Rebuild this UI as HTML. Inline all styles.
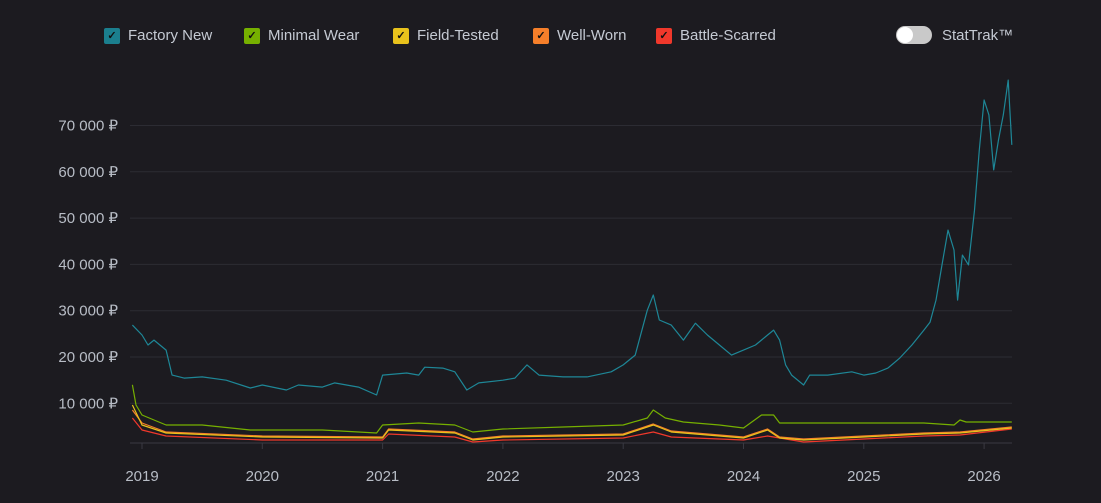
<!DOCTYPE html>
<html><head><meta charset="utf-8"><style>
body{margin:0;background:#1c1b20;font-family:"Liberation Sans",sans-serif;}
#wrap{position:relative;width:1101px;height:503px;overflow:hidden;background:#1c1b20;}
.leg{position:absolute;top:27px;display:flex;align-items:center;color:#c5cad3;font-size:15px;}
.cb{width:16px;height:16px;border-radius:2px;margin-right:8px;display:flex;align-items:center;justify-content:center;color:#111;font-size:11px;font-weight:bold;}
</style></head><body><div id="wrap">
<div class="leg" style="left:104px"><div class="cb" style="background:#1b7f8e">✓</div>Factory New</div>
<div class="leg" style="left:244px"><div class="cb" style="background:#76b000">✓</div>Minimal Wear</div>
<div class="leg" style="left:393px"><div class="cb" style="background:#e8c21c">✓</div>Field-Tested</div>
<div class="leg" style="left:533px"><div class="cb" style="background:#f57f2a">✓</div>Well-Worn</div>
<div class="leg" style="left:656px"><div class="cb" style="background:#f0382b">✓</div>Battle-Scarred</div>
<div style="position:absolute;left:896px;top:26px;width:36px;height:18px;border-radius:9px;background:#c9c9c9"><div style="position:absolute;left:1px;top:1px;width:16px;height:16px;border-radius:8px;background:#fff"></div></div>
<div class="leg" style="left:942px">StatTrak™</div>
<svg id="chart" width="1101" height="503" style="position:absolute;left:0;top:0"></svg>
</div>
<script>
const yTicks=[10000,20000,30000,40000,50000,60000,70000];
const yearTicks=[2019,2020,2021,2022,2023,2024,2025,2026];
const fnT=[2018.92,2019.0,2019.05,2019.1,2019.2,2019.25,2019.35,2019.5,2019.7,2019.9,2020.0,2020.2,2020.3,2020.5,2020.6,2020.8,2020.95,2021.0,2021.2,2021.3,2021.35,2021.5,2021.6,2021.7,2021.8,2022.0,2022.1,2022.2,2022.3,2022.5,2022.7,2022.9,2023.0,2023.1,2023.2,2023.25,2023.3,2023.4,2023.5,2023.6,2023.7,2023.8,2023.9,2024.0,2024.1,2024.2,2024.25,2024.3,2024.35,2024.4,2024.5,2024.55,2024.7,2024.9,2025.0,2025.1,2025.2,2025.3,2025.4,2025.5,2025.55,2025.6,2025.65,2025.7,2025.75,2025.78,2025.82,2025.87,2025.92,2025.96,2026.0,2026.04,2026.08,2026.12,2026.16,2026.2,2026.23];
const fnV=[26900,24750,22600,23650,21500,16100,15450,15700,15000,13300,13950,12870,13950,13500,14400,13500,11800,16100,16550,16100,17800,17600,16800,12870,14400,15000,15450,18300,16100,15700,15700,16800,18300,20400,30100,33400,28000,26900,23650,27300,24750,22600,20400,21500,22600,24750,25800,23650,18300,16100,13950,16100,16100,16800,16100,16550,17600,19800,22600,25800,27500,32300,39900,47400,43100,32300,42000,39900,51700,64700,75500,72300,60400,66900,72300,79800,65800];
const mwT=[2018.92,2018.95,2019.0,2019.1,2019.2,2019.5,2019.9,2020.5,2020.95,2021.0,2021.3,2021.6,2021.75,2022.0,2022.5,2023.0,2023.2,2023.25,2023.35,2023.5,2023.8,2024.0,2024.15,2024.25,2024.3,2025.0,2025.5,2025.75,2025.8,2025.85,2026.23];
const mwV=[14000,9630,7470,6390,5310,5310,4230,4230,3590,5310,5750,5310,3800,4450,4880,5310,6820,8550,6820,5960,5310,4660,7470,7470,5750,5750,5750,5310,6390,5960,5960];
const loT=[2018.92,2019.0,2019.2,2020.0,2021.0,2021.05,2021.6,2021.75,2022.0,2023.0,2023.25,2023.4,2023.8,2024.0,2024.2,2024.3,2024.5,2025.0,2025.5,2025.8,2026.23];
const ftV=[9630,5310,3590,2720,2500,4230,3590,2070,2720,3150,5310,3800,2940,2500,4230,2500,2070,2720,3370,3590,4660];
const wwV=[8550,5750,3800,2940,2720,4450,3800,2290,2940,3370,5530,4020,3150,2720,4450,2720,2290,2940,3590,3800,4880];
const bsT=[2018.92,2019.0,2019.2,2020.0,2021.0,2021.05,2021.6,2021.75,2022.0,2023.0,2023.25,2023.4,2024.0,2024.2,2024.5,2025.0,2025.5,2025.8,2026.23];
const bsV=[6820,4230,2940,2070,2070,3370,2720,1640,2070,2500,3800,2720,2070,2940,1640,2290,2940,3150,4450];
const X=t=>142+(t-2019)*120.3;
const Y=v=>449.6-v*0.00463;
const svg=document.getElementById('chart');const NS='http://www.w3.org/2000/svg';
function mk(tag,a){const e=document.createElementNS(NS,tag);for(const k in a)e.setAttribute(k,a[k]);svg.appendChild(e);return e;}
yTicks.forEach(v=>{
 const g=mk('line',{x1:130,x2:1012,y1:Y(v),y2:Y(v),stroke:'#2c2c33','stroke-width':1});
 
 
 const t=mk('text',{x:118,y:Y(v)+5,'text-anchor':'end',fill:'#b8bdc6','font-size':15,'font-family':'Liberation Sans, sans-serif'});
 t.textContent=v.toLocaleString('en-US').replace(/,/g,' ')+' ₽';
 
 
});
const ax=mk('line',{x1:130,x2:1012,y1:443,y2:443,stroke:'#3a3a42'});


yearTicks.forEach(y=>{
 const tk=mk('line',{x1:X(y),x2:X(y),y1:443,y2:449,stroke:'#3a3a42'});
 
 
 const t=mk('text',{x:X(y),y:481,'text-anchor':'middle',fill:'#b8bdc6','font-size':15,'font-family':'Liberation Sans, sans-serif'});
 t.textContent=y;
 
 
});
function line(T,V,c,n){
 const p=mk('polyline',{points:T.map((t,i)=>X(t).toFixed(1)+','+Y(V[i]).toFixed(1)).join(' '),fill:'none',stroke:c,'stroke-width':1.2,'stroke-linejoin':'round'});
 
 
}
line(bsT,bsV,'#f0382b','series-battle-scarred');
line(loT,wwV,'#f57f2a','series-well-worn');
line(loT,ftV,'#e8c21c','series-field-tested');
line(mwT,mwV,'#76b000','series-minimal-wear');
line(fnT,fnV,'#1e8797','series-factory-new');
</script></body></html>
